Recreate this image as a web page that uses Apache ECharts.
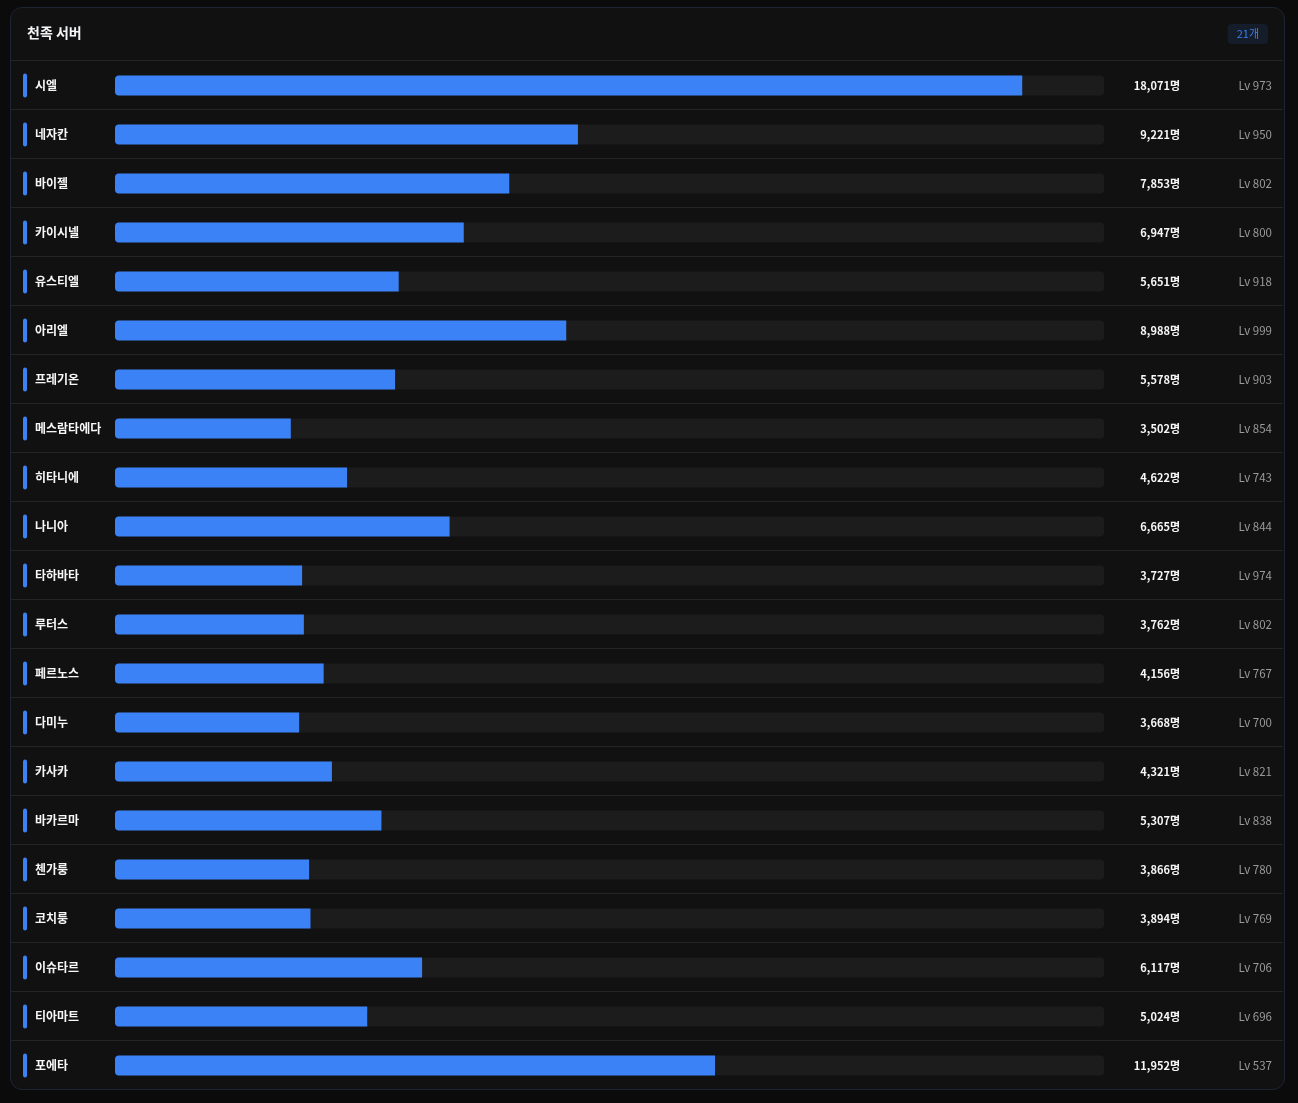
<!DOCTYPE html>
<html>
<head>
<meta charset="utf-8">
<script src="https://cdn.jsdelivr.net/npm/echarts@6/dist/echarts.min.js"></script>
<style>
  html, body { margin: 0; padding: 0; background: #0b0b0b; width: 1298px; height: 1103px; overflow: hidden; }
  #card { position: absolute; left: 10px; top: 7px; width: 1273px; height: 1081px; background: #111111; border: 1px solid #1d2433; border-radius: 12px; }
  #chart { position: absolute; left: 0; top: 0; width: 1298px; height: 1103px; }
</style>
</head>
<body>
<div id="card"></div>
<div id="chart"></div>
<script>
const title = '천족 서버';
const badge = '21개';
const servers = ['시엘','네자칸','바이젤','카이시넬','유스티엘','아리엘','프레기온','메스람타에다','히타니에','나니아','타하바타','루터스','페르노스','다미누','카사카','바카르마','첸가룽','코치룽','이슈타르','티아마트','포에타'];
const players = [18071,9221,7853,6947,5651,8988,5578,3502,4622,6665,3727,3762,4156,3668,4321,5307,3866,3894,6117,5024,11952];
const levels = [973,950,802,800,918,999,903,854,743,844,974,802,767,700,821,838,780,769,706,696,537];
const axisMax = 19700;

const FONT = '"Noto Sans CJK KR", "Noto Sans", sans-serif';
const chart = echarts.init(document.getElementById('chart'), null, { renderer: 'canvas' });

chart.setOption({
  backgroundColor: 'transparent',
  textStyle: { fontFamily: FONT },
  title: [
    { text: title, left: 27, top: 24, padding: 0,
      textStyle: { color: '#f3f4f6', fontSize: 14, fontWeight: 'bold', fontFamily: FONT, lineHeight: 18 } },
    { text: badge, right: 30, top: 24, padding: [4, 9], backgroundColor: '#151c2a', borderRadius: 4,
      textStyle: { color: '#3b7ff0', fontSize: 11, fontWeight: 'normal', fontFamily: FONT, lineHeight: 12 } }
  ],
  grid: [
    { left: 115, width: 989, top: 61, height: 1029, containLabel: false },
    { left: 11, right: 15, top: 60, height: 1029, containLabel: false }
  ],
  xAxis: [
    { type: 'value', min: 0, max: axisMax, show: false, gridIndex: 0 },
    { type: 'value', min: 0, max: 1, show: false, gridIndex: 1 }
  ],
  yAxis: [
    {
      type: 'category', data: servers, inverse: true, gridIndex: 0,
      axisLine: { show: false }, axisTick: { show: false }, splitLine: { show: false },
      axisLabel: {
        align: 'left', margin: 92,
        formatter: v => '{a|}{n|' + v + '}',
        rich: {
          a: { width: 4, height: 24, backgroundColor: '#3b82f6', borderRadius: 2 },
          n: { color: '#f7f7f7', fontSize: 12, fontWeight: 'bold', fontFamily: FONT, padding: [0, 0, 0, 8] }
        }
      }
    },
    {
      type: 'category', data: servers, inverse: true, position: 'right', gridIndex: 0,
      axisLine: { show: false }, axisTick: { show: false }, splitLine: { show: false },
      axisLabel: {
        align: 'left', margin: 0,
        formatter: (v, i) => '{v|' + players[i].toLocaleString('en-US') + '명}{l|Lv ' + levels[i] + '}',
        rich: {
          v: { width: 76, align: 'right', color: '#f7f7f7', fontSize: 11, fontWeight: 'bold', fontFamily: FONT },
          l: { width: 92, align: 'right', color: '#9a9a9a', fontSize: 11.5, fontFamily: FONT }
        }
      }
    },
    {
      type: 'category', data: servers, inverse: true, gridIndex: 1,
      axisLine: { show: false }, axisTick: { show: false }, axisLabel: { show: false },
      splitLine: { show: true, showMaxLine: false, lineStyle: { color: '#252525', width: 1 } }
    }
  ],
  series: [
    {
      type: 'bar', name: 'track', silent: true, barWidth: 20, barGap: '-100%', z: 1,
      xAxisIndex: 0, yAxisIndex: 0,
      data: servers.map(() => axisMax),
      itemStyle: { color: '#1c1c1c', borderRadius: 4 },
      animation: false
    },
    {
      type: 'bar', name: 'players', barWidth: 20, z: 2,
      xAxisIndex: 0, yAxisIndex: 0,
      data: players,
      itemStyle: { color: '#3b82f6', borderRadius: [4, 0, 0, 4] },
      animation: false
    }
  ]
});
</script>
</body>
</html>
